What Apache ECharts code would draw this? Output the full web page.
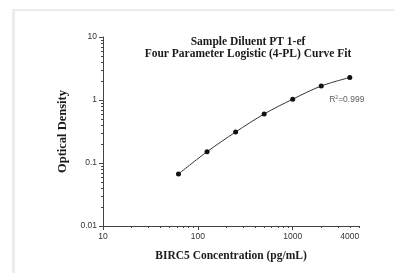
<!DOCTYPE html>
<html>
<head>
<meta charset="utf-8">
<script src="https://cdn.jsdelivr.net/npm/echarts@6/dist/echarts.min.js"></script>
<style>
html, body { margin: 0; padding: 0; background: #fff; }
#chart { width: 394px; height: 273px; }
</style>
</head>
<body>
<div id="chart"></div>
<script>
var titleLines = ['Sample Diluent PT 1-ef', 'Four Parameter Logistic (4-PL) Curve Fit'];
var concentration = [62.5, 125, 250, 500, 1000, 2000, 4000];
var opticalDensity = [0.067, 0.151, 0.31, 0.60, 1.03, 1.67, 2.28];
var xLabels = [10, 100, 1000, 4000];
var xMajorTicks = [10, 100, 1000];
var xMinorTicks = [20, 30, 40, 50, 60, 70, 80, 90, 200, 300, 400, 500, 600, 700, 800, 900, 2000, 3000, 4000, 5000];
var yLabels = [0.01, 0.1, 1, 10];
var yMinorTicks = [0.02, 0.03, 0.04, 0.05, 0.06, 0.07, 0.08, 0.09, 0.2, 0.3, 0.4, 0.5, 0.6, 0.7, 0.8, 0.9, 2, 3, 4, 5, 6, 7, 8, 9];
var rSquared = '0.999';
var rSquaredAt = [4000, 1.0];

var chart = echarts.init(document.getElementById('chart'));

var sans = 'Liberation Sans';
var serif = 'Liberation Serif';
var lineCol = '#444';

var points = [];
for (var i = 0; i < concentration.length; i++) {
    points.push([concentration[i], opticalDensity[i]]);
}

function plain(v) { return String(v); }

var option = {
    backgroundColor: '#fff',
    animation: false,
    title: {
        text: titleLines.join('\n'),
        left: 243,
        top: 31,
        textAlign: 'center',
        textStyle: { fontFamily: serif, fontWeight: 'bold', fontSize: 11.5, lineHeight: 12, color: '#1a1a1a' }
    },
    graphic: [
        { type: 'rect', shape: { x: 12, y: 9, width: 3, height: 264 }, style: { fill: '#ececec' } },
        { type: 'rect', shape: { x: 12, y: 9, width: 382, height: 2 }, style: { fill: '#ececec' } }
    ],
    grid: { left: 103, right: 35, top: 37, bottom: 47 },
    xAxis: [{
        type: 'log', logBase: 10, min: 10, max: 5000,
        name: 'BIRC5 Concentration (pg/mL)',
        nameLocation: 'middle', nameGap: 24,
        nameTextStyle: { fontFamily: serif, fontWeight: 'bold', fontSize: 11.5, color: '#1a1a1a' },
        axisLine: { lineStyle: { color: lineCol, width: 1 } },
        axisTick: { length: 4, customValues: xMajorTicks, lineStyle: { color: lineCol } },
        axisLabel: { customValues: xLabels, fontFamily: sans, fontSize: 8.5, color: '#333', margin: 6, formatter: plain },
        splitLine: { show: false }
    }, {
        type: 'log', logBase: 10, min: 10, max: 5000, position: 'bottom',
        axisLine: { show: false },
        axisTick: { length: 2, customValues: xMinorTicks, lineStyle: { color: lineCol } },
        axisLabel: { show: false },
        splitLine: { show: false }
    }],
    yAxis: [{
        type: 'log', logBase: 10, min: 0.01, max: 10,
        name: 'Optical Density',
        nameLocation: 'middle', nameGap: 19,
        nameTextStyle: { fontFamily: serif, fontWeight: 'bold', fontSize: 12.5, color: '#1a1a1a' },
        axisLine: { show: true, lineStyle: { color: lineCol, width: 1 } },
        axisTick: { show: true, length: 4, customValues: yLabels, lineStyle: { color: lineCol } },
        axisLabel: { customValues: yLabels, fontFamily: sans, fontSize: 8.5, color: '#333', margin: 6, formatter: plain },
        splitLine: { show: false }
    }, {
        type: 'log', logBase: 10, min: 0.01, max: 10, position: 'left',
        axisLine: { show: false },
        axisTick: { show: true, length: 2, customValues: yMinorTicks, lineStyle: { color: lineCol } },
        axisLabel: { show: false },
        splitLine: { show: false }
    }],
    series: [{
        type: 'line',
        data: points,
        smooth: 0.3,
        symbol: 'circle',
        symbolSize: 5,
        itemStyle: { color: '#111' },
        lineStyle: { color: '#333', width: 1 },
        label: { show: false }
    }, {
        type: 'scatter',
        data: [rSquaredAt],
        symbolSize: 1,
        itemStyle: { color: 'rgba(0,0,0,0)' },
        silent: true,
        label: {
            show: true,
            position: 'inside',
            offset: [-3, 0],
            formatter: '{a|R}{s|2}{a|=' + rSquared + '}',
            rich: {
                a: { fontFamily: sans, fontSize: 8.5, color: '#333' },
                s: { fontFamily: sans, fontSize: 5, color: '#333', verticalAlign: 'top', padding: [0, 0, 4, 0] }
            }
        }
    }]
};
chart.setOption(option);
</script>
</body>
</html>
